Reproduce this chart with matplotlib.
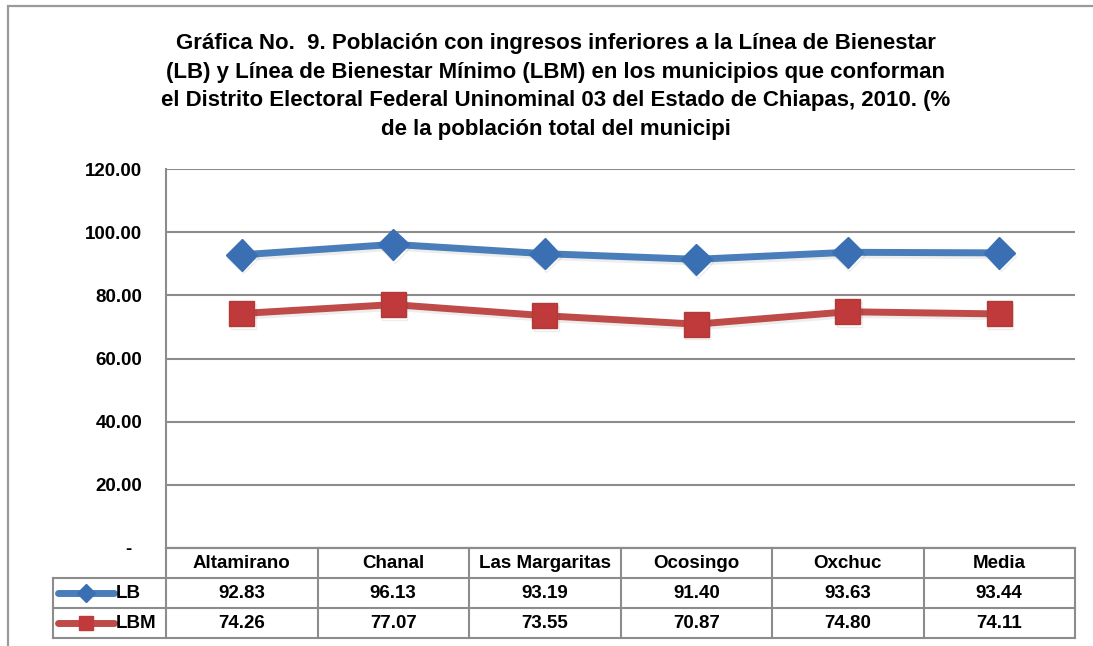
import matplotlib

matplotlib.use("Agg")
import matplotlib.pyplot as plt
import matplotlib.patheffects as pe
from matplotlib.patches import Rectangle
from matplotlib.lines import Line2D

municipios = ["Altamirano", "Chanal", "Las Margaritas", "Ocosingo", "Oxchuc", "Media"]
lb = [92.83, 96.13, 93.19, 91.40, 93.63, 93.44]
lbm = [74.26, 77.07, 73.55, 70.87, 74.80, 74.11]
series_names = ["LB", "LBM"]
yticks = [0, 20, 40, 60, 80, 100, 120]
ytick_labels = ["-  ", "20.00", "40.00", "60.00", "80.00", "100.00", "120.00"]

title = ("Gráfica No.  9. Población con ingresos inferiores a la Línea de Bienestar\n"
         "(LB) y Línea de Bienestar Mínimo (LBM) en los municipios que conforman\n"
         "el Distrito Electoral Federal Uninominal 03 del Estado de Chiapas, 2010. (%\n"
         "de la población total del municipi")

plt.rcParams["font.family"] = ["Liberation Sans", "DejaVu Sans"]
plt.rcParams["font.weight"] = "bold"

W, H = 1093, 646
fig = plt.figure(figsize=(W / 100, H / 100), dpi=100)

# outer chart frame (continues past the right/bottom edge)
fig.patches.append(Rectangle((8 / W, -0.2), 1.5, 1.2 - 5.5 / H,
                             transform=fig.transFigure, fill=False,
                             edgecolor="#9a9a9a", lw=1.6))

fig.text(556 / W, 1 - 86.5 / H, title, ha="center", va="center",
         fontsize=16, fontweight="bold", linespacing=1.48)

grid_c = "#8c8c8c"
blue_line, blue_mark = "#4a7ebb", "#3a6fb4"
red_line, red_mark = "#be4b48", "#c0393b"
fs = 13.5

x0, x1 = 166, 1075
ytop, ybot = 169, 548
ax = fig.add_axes([x0 / W, 1 - ybot / H, (x1 - x0) / W, (ybot - ytop) / H])
xs = list(range(len(municipios)))
shadow = [pe.SimpleLineShadow(offset=(1, -2), alpha=0.07, shadow_color="k"), pe.Normal()]
ax.plot(xs, lb, color=blue_line, lw=5, marker="D", ms=16,
        mfc=blue_mark, mec=blue_mark, path_effects=shadow, zorder=3)
ax.plot(xs, lbm, color=red_line, lw=5, marker="s", ms=18,
        mfc=red_mark, mec="#b03a38", path_effects=shadow, zorder=3)
ax.set_xlim(-0.5, len(municipios) - 0.5)
ax.set_ylim(0, 120)
ax.set_yticks(yticks)
ax.set_yticklabels(ytick_labels, fontsize=fs, fontweight="bold")
ax.tick_params(axis="y", length=0, pad=17)
ax.set_xticks([])
ax.grid(axis="y", color=grid_c, lw=1.5)
for s in ["top", "right"]:
    ax.spines[s].set_visible(False)
for s in ["left", "bottom"]:
    ax.spines[s].set_color(grid_c)
    ax.spines[s].set_linewidth(1.5)

# data table under the plot
colw = (x1 - x0) / len(municipios)
tl = 53
xl0 = -0.5 - (x0 - tl) / colw
tb = 638
tax = fig.add_axes([tl / W, 1 - tb / H, (x1 - tl) / W, (tb - ybot) / H])
tax.set_xlim(xl0, len(municipios) - 0.5)
tax.set_ylim(0, 3)
tax.axis("off")
lkw = dict(color=grid_c, lw=1.5, clip_on=False)
n = len(municipios)
for i in range(n + 1):
    tax.plot([i - 0.5, i - 0.5], [0, 3], **lkw)
tax.plot([xl0, xl0], [0, 2], **lkw)
tax.plot([-0.5, n - 0.5], [3, 3], **lkw)
for y in [0, 1, 2]:
    tax.plot([xl0, n - 0.5], [y, y], **lkw)
for i, m in enumerate(municipios):
    tax.text(i, 2.5, m, ha="center", va="center", fontsize=fs, fontweight="bold")
    tax.text(i, 1.5, f"{lb[i]:.2f}", ha="center", va="center", fontsize=fs, fontweight="bold")
    tax.text(i, 0.5, f"{lbm[i]:.2f}", ha="center", va="center", fontsize=fs, fontweight="bold")

lx0 = xl0 + 5 / colw
lx1 = -0.5 - 52 / colw
for yrow, name, lc, mk, mc, ms in [(1.5, series_names[0], blue_line, "D", blue_mark, 9),
                                   (0.5, series_names[1], red_line, "s", red_mark, 10)]:
    tax.add_line(Line2D([lx0, lx1], [yrow, yrow], color=lc, lw=5,
                        solid_capstyle="round", clip_on=False))
    tax.plot([(lx0 + lx1) / 2], [yrow], marker=mk, ms=ms, color=mc, clip_on=False)
    tax.text(lx1 + 2 / colw, yrow, name, ha="left", va="center",
             fontsize=fs, fontweight="bold")

fig.savefig("out.png", dpi=100)
